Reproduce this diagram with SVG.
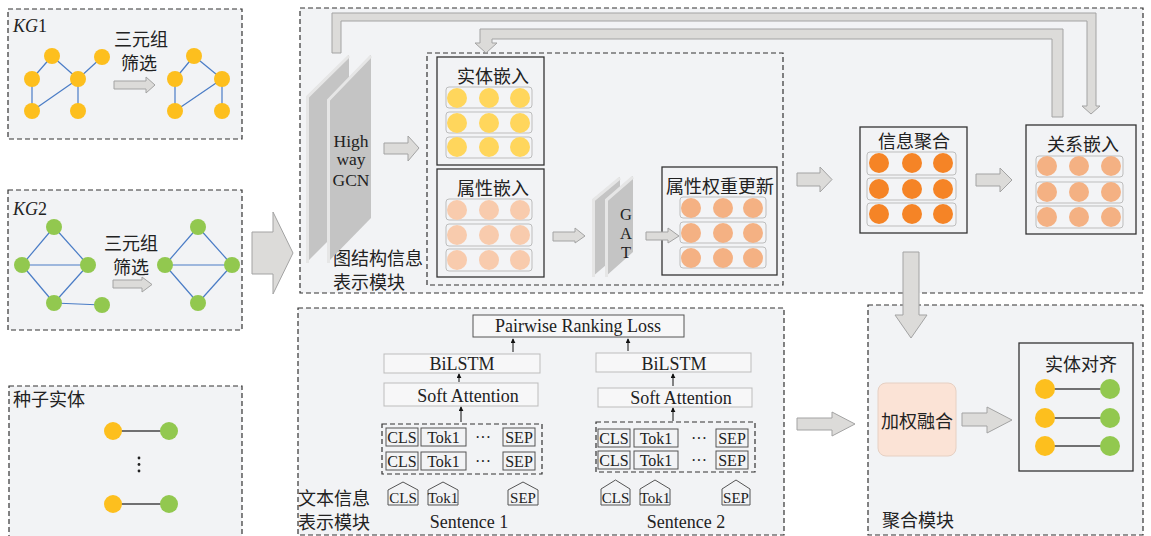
<svg xmlns="http://www.w3.org/2000/svg" width="1151" height="536" viewBox="0 0 1151 536">
<defs>
<style>
.panel{fill:#f2f3f5;stroke:#333;stroke-width:1.2;stroke-dasharray:5 3}
.inner{fill:none;stroke:#333;stroke-width:1.2;stroke-dasharray:5 3}
.box{fill:#f2f3f5;stroke:#333;stroke-width:1.3}
.row{fill:#f3f4f6;stroke:#bdbdbd;stroke-width:1}
.blk{fill:#dcdbd9;stroke:#a3a3a3;stroke-width:1}
.edge{stroke:#4a7cc6;stroke-width:1.2}
.seed{stroke:#444;stroke-width:1.3}
.y{fill:#fdbf1e}
.g{fill:#92c84f}
.c1{fill:#ffd65c}
.c2{fill:#f8cbad}
.c3{fill:#f4b183}
.c4{fill:#f58426}
.zh{font-family:"Noto Sans CJK SC","Noto Sans",sans-serif;font-size:18px;fill:#222}
.en{font-family:"Liberation Serif",serif;fill:#222}
.lbox{fill:#f7f7f8;stroke:#bdbdbd;stroke-width:1}
.tok{fill:#f2f3f5;stroke:#555;stroke-width:1}
.slab{fill:#c4c4c4}
.slabedge{fill:none;stroke:#e6e6e6;stroke-width:3}
.thin{stroke:#111;stroke-width:1;marker-end:url(#ah)}
</style>
<marker id="ah" viewBox="0 0 6 6" refX="5" refY="3" markerWidth="5" markerHeight="5" orient="auto">
<path d="M0,0 L6,3 L0,6 z" fill="#111"/>
</marker>
</defs>

<!-- KG1 panel -->
<g id="kg1">
<rect class="panel" x="8" y="9" width="234" height="130"/>
<text class="en" x="13" y="32" font-size="18" font-style="italic">KG<tspan font-style="normal">1</tspan></text>
<g>
<line class="edge" x1="52" y1="56" x2="32" y2="79"/>
<line class="edge" x1="52" y1="56" x2="78" y2="79"/>
<line class="edge" x1="102" y1="57" x2="78" y2="79"/>
<line class="edge" x1="32" y1="79" x2="32" y2="111"/>
<line class="edge" x1="78" y1="79" x2="32" y2="111"/>
<line class="edge" x1="78" y1="79" x2="78" y2="111"/>
<circle class="y" cx="52" cy="56" r="8"/><circle class="y" cx="102" cy="57" r="8"/>
<circle class="y" cx="32" cy="79" r="8"/><circle class="y" cx="78" cy="79" r="8"/>
<circle class="y" cx="32" cy="111" r="8"/><circle class="y" cx="78" cy="111" r="8"/>
</g>
<g>
<line class="edge" x1="194" y1="56" x2="175" y2="79"/>
<line class="edge" x1="194" y1="56" x2="222" y2="79"/>
<line class="edge" x1="175" y1="79" x2="175" y2="111"/>
<line class="edge" x1="222" y1="79" x2="175" y2="111"/>
<line class="edge" x1="222" y1="79" x2="222" y2="111"/>
<circle class="y" cx="194" cy="56" r="8"/><circle class="y" cx="175" cy="79" r="8"/>
<circle class="y" cx="222" cy="79" r="8"/><circle class="y" cx="175" cy="111" r="8"/>
<circle class="y" cx="222" cy="111" r="8"/>
</g>
<text class="zh" x="141" y="46" text-anchor="middle" font-size="17">三元组</text>
<text class="zh" x="139" y="70" text-anchor="middle" font-size="17">筛选</text>
</g>

<!-- KG2 panel -->
<g id="kg2">
<rect class="panel" x="8" y="190" width="234" height="140"/>
<text class="en" x="13" y="215" font-size="18" font-style="italic">KG<tspan font-style="normal">2</tspan></text>
<g>
<line class="edge" x1="54" y1="227" x2="22" y2="265"/>
<line class="edge" x1="54" y1="227" x2="88" y2="265"/>
<line class="edge" x1="22" y1="265" x2="88" y2="265"/>
<line class="edge" x1="22" y1="265" x2="54" y2="303"/>
<line class="edge" x1="88" y1="265" x2="54" y2="303"/>
<line class="edge" x1="54" y1="303" x2="102" y2="305"/>
<circle class="g" cx="54" cy="227" r="8"/><circle class="g" cx="22" cy="265" r="8"/>
<circle class="g" cx="88" cy="265" r="8"/><circle class="g" cx="54" cy="303" r="8"/>
<circle class="g" cx="102" cy="305" r="8"/>
</g>
<g>
<line class="edge" x1="198" y1="227" x2="165" y2="265"/>
<line class="edge" x1="198" y1="227" x2="232" y2="265"/>
<line class="edge" x1="165" y1="265" x2="232" y2="265"/>
<line class="edge" x1="165" y1="265" x2="198" y2="303"/>
<line class="edge" x1="232" y1="265" x2="198" y2="303"/>
<circle class="g" cx="198" cy="227" r="8"/><circle class="g" cx="165" cy="265" r="8"/>
<circle class="g" cx="232" cy="265" r="8"/><circle class="g" cx="198" cy="303" r="8"/>
</g>
<text class="zh" x="131" y="250" text-anchor="middle" font-size="17">三元组</text>
<text class="zh" x="131" y="274" text-anchor="middle" font-size="17">筛选</text>
</g>

<!-- Seed panel -->
<g id="seed">
<rect class="panel" x="9" y="386" width="233" height="160"/>
<text class="zh" x="13" y="406">种子实体</text>
<line class="seed" x1="113" y1="431" x2="169" y2="431"/>
<circle class="y" cx="113" cy="431" r="9"/><circle class="g" cx="169" cy="431" r="9"/>
<circle cx="139" cy="458" r="1.4" fill="#222"/><circle cx="139" cy="464.5" r="1.4" fill="#222"/><circle cx="139" cy="471" r="1.4" fill="#222"/>
<line class="seed" x1="113" y1="504" x2="169" y2="504"/>
<circle class="y" cx="113" cy="504" r="9"/><circle class="g" cx="169" cy="504" r="9"/>
</g>

<!-- Graph structure module -->
<g id="graph-module">
<rect class="panel" x="300" y="8" width="843" height="285"/>
<rect class="inner" x="427" y="53" width="356" height="232"/>
<text class="zh" x="333" y="265" font-size="17">图结构信息</text>
<text class="zh" x="333" y="289" font-size="17">表示模块</text>
</g>

<g id="highway-gcn">
<polygon class="slab" points="306,97 349,55 349,220 306,263"/>
<polyline class="slabedge" points="307.5,263 307.5,97 349,56"/>
<polygon class="slab" points="327,100 371,55 371,218 327,263"/>
<polyline class="slabedge" points="328.5,263 328.5,100 371,56"/>
<text class="en" x="351" y="147" font-size="17.5" text-anchor="middle">High</text>
<text class="en" x="351" y="165" font-size="17.5" text-anchor="middle">way</text>
<text class="en" x="351" y="186" font-size="17.5" text-anchor="middle">GCN</text>
</g>

<g id="entity-emb">
<rect class="box" x="437" y="57" width="107" height="108"/>
<text class="zh" x="493" y="83" text-anchor="middle">实体嵌入</text>
<rect class="row" x="446" y="87" width="86" height="21" rx="3"/>
<rect class="row" x="446" y="112" width="86" height="21" rx="3"/>
<rect class="row" x="446" y="137" width="86" height="21" rx="3"/>
<circle class="c1" cx="457" cy="98" r="10"/><circle class="c1" cx="489" cy="98" r="10"/><circle class="c1" cx="520" cy="98" r="10"/>
<circle class="c1" cx="457" cy="123" r="10"/><circle class="c1" cx="489" cy="123" r="10"/><circle class="c1" cx="520" cy="123" r="10"/>
<circle class="c1" cx="457" cy="147" r="10"/><circle class="c1" cx="489" cy="147" r="10"/><circle class="c1" cx="520" cy="147" r="10"/>
</g>

<g id="attr-emb">
<rect class="box" x="437" y="169" width="107" height="108"/>
<text class="zh" x="493" y="195" text-anchor="middle">属性嵌入</text>
<rect class="row" x="446" y="199" width="86" height="21" rx="3"/>
<rect class="row" x="446" y="224" width="86" height="22" rx="3"/>
<rect class="row" x="446" y="249" width="86" height="22" rx="3"/>
<circle class="c2" cx="457" cy="210" r="10"/><circle class="c2" cx="489" cy="210" r="10"/><circle class="c2" cx="520" cy="210" r="10"/>
<circle class="c2" cx="457" cy="235" r="10"/><circle class="c2" cx="489" cy="235" r="10"/><circle class="c2" cx="520" cy="235" r="10"/>
<circle class="c2" cx="457" cy="260" r="10"/><circle class="c2" cx="489" cy="260" r="10"/><circle class="c2" cx="520" cy="260" r="10"/>
</g>

<g id="gat">
<polygon class="slab" points="592,200 620,177 620,253 592,277"/>
<polyline class="slabedge" points="593.5,277 593.5,200 620,178"/>
<polygon class="slab" points="605,200 633,176 633,252 605,277"/>
<polyline class="slabedge" points="606.5,277 606.5,200 633,177"/>
<text class="en" x="626" y="205" font-size="16.5" writing-mode="vertical-rl" style="text-orientation:upright">GAT</text>
</g>

<g id="attr-update">
<rect class="box" x="662" y="167" width="115" height="108"/>
<text class="zh" x="720" y="193" text-anchor="middle">属性权重更新</text>
<rect class="row" x="680" y="197" width="86" height="21" rx="3"/>
<rect class="row" x="680" y="222" width="86" height="21" rx="3"/>
<rect class="row" x="680" y="247" width="86" height="21" rx="3"/>
<circle class="c3" cx="691" cy="208" r="10"/><circle class="c3" cx="723" cy="208" r="10"/><circle class="c3" cx="753" cy="208" r="10"/>
<circle class="c3" cx="691" cy="233" r="10"/><circle class="c3" cx="723" cy="233" r="10"/><circle class="c3" cx="753" cy="233" r="10"/>
<circle class="c3" cx="691" cy="258" r="10"/><circle class="c3" cx="723" cy="258" r="10"/><circle class="c3" cx="753" cy="258" r="10"/>
</g>

<g id="info-agg">
<rect class="box" x="860" y="127" width="107" height="106"/>
<text class="zh" x="914" y="148" text-anchor="middle">信息聚合</text>
<rect class="row" x="867" y="152" width="89" height="23" rx="3"/>
<rect class="row" x="867" y="178" width="89" height="22" rx="3"/>
<rect class="row" x="867" y="203" width="89" height="23" rx="3"/>
<circle class="c4" cx="879" cy="163" r="10"/><circle class="c4" cx="912" cy="163" r="10"/><circle class="c4" cx="943" cy="163" r="10"/>
<circle class="c4" cx="879" cy="189" r="10"/><circle class="c4" cx="912" cy="189" r="10"/><circle class="c4" cx="943" cy="189" r="10"/>
<circle class="c4" cx="879" cy="214" r="10"/><circle class="c4" cx="912" cy="214" r="10"/><circle class="c4" cx="943" cy="214" r="10"/>
</g>

<g id="rel-emb">
<rect class="box" x="1026" y="125" width="110" height="109"/>
<text class="zh" x="1083" y="151" text-anchor="middle">关系嵌入</text>
<rect class="row" x="1036" y="156" width="87" height="21" rx="3"/>
<rect class="row" x="1036" y="182" width="87" height="21" rx="3"/>
<rect class="row" x="1036" y="206" width="87" height="22" rx="3"/>
<circle class="c3" cx="1047" cy="166" r="10"/><circle class="c3" cx="1079" cy="166" r="10"/><circle class="c3" cx="1111" cy="166" r="10"/>
<circle class="c3" cx="1047" cy="192" r="10"/><circle class="c3" cx="1079" cy="192" r="10"/><circle class="c3" cx="1111" cy="192" r="10"/>
<circle class="c3" cx="1047" cy="217" r="10"/><circle class="c3" cx="1079" cy="217" r="10"/><circle class="c3" cx="1111" cy="217" r="10"/>
</g>

<!-- Text module -->
<g id="text-module">
<rect class="panel" x="298" y="308" width="486" height="227"/>
<text class="zh" x="298" y="505" font-size="17.5">文本信息</text>
<text class="zh" x="298" y="529" font-size="17.5">表示模块</text>
</g>

<g id="ranking-loss">
<rect fill="#f7f7f8" stroke="#555" stroke-width="1" x="473" y="315" width="211" height="22"/>
<text class="en" x="578" y="332" font-size="18" text-anchor="middle">Pairwise Ranking Loss</text>
</g>

<g id="sentence1">
<rect class="lbox" x="384" y="354" width="156" height="19"/>
<text class="en" x="462" y="370" font-size="18" text-anchor="middle">BiLSTM</text>
<rect class="lbox" x="384" y="383" width="154" height="23"/>
<text class="en" x="468" y="402" font-size="18" text-anchor="middle">Soft Attention</text>
<rect class="inner" x="382" y="424" width="160" height="50"/>
<rect class="tok" x="386" y="428" width="32" height="18"/>
<rect class="tok" x="421" y="428" width="45" height="18"/>
<rect class="tok" x="503" y="428" width="32" height="18"/>
<rect class="tok" x="386" y="452" width="32" height="18"/>
<rect class="tok" x="421" y="452" width="45" height="18"/>
<rect class="tok" x="503" y="452" width="32" height="18"/>
<text class="en" x="402" y="443" font-size="16" text-anchor="middle">CLS</text>
<text class="en" x="443.5" y="443" font-size="16" text-anchor="middle">Tok1</text>
<text class="en" x="483" y="443" font-size="16" text-anchor="middle">···</text>
<text class="en" x="519" y="443" font-size="16" text-anchor="middle">SEP</text>
<text class="en" x="402" y="467" font-size="16" text-anchor="middle">CLS</text>
<text class="en" x="443.5" y="467" font-size="16" text-anchor="middle">Tok1</text>
<text class="en" x="483" y="467" font-size="16" text-anchor="middle">···</text>
<text class="en" x="519" y="467" font-size="16" text-anchor="middle">SEP</text>
<polygon class="tok" points="388,505 388,490 403,482 418,490 418,505"/>
<polygon class="tok" points="428,505 428,490 443,482 458,490 458,505"/>
<polygon class="tok" points="508,505 508,490 523,482 538,490 538,505"/>
<text class="en" x="403" y="503" font-size="15" text-anchor="middle">CLS</text>
<text class="en" x="443" y="503" font-size="15" text-anchor="middle">Tok1</text>
<text class="en" x="523" y="503" font-size="15" text-anchor="middle">SEP</text>
<text class="en" x="469" y="528" font-size="18" text-anchor="middle">Sentence 1</text>
</g>

<g id="sentence2">
<rect class="lbox" x="596" y="353" width="155" height="19"/>
<text class="en" x="674" y="370" font-size="18" text-anchor="middle">BiLSTM</text>
<rect class="lbox" x="598" y="388" width="154" height="19"/>
<text class="en" x="681" y="404" font-size="18" text-anchor="middle">Soft Attention</text>
<rect class="inner" x="596" y="422" width="159" height="50"/>
<rect class="tok" x="598" y="429" width="32" height="18"/>
<rect class="tok" x="634" y="429" width="44" height="18"/>
<rect class="tok" x="716" y="429" width="32" height="18"/>
<rect class="tok" x="598" y="451" width="32" height="18"/>
<rect class="tok" x="634" y="451" width="44" height="18"/>
<rect class="tok" x="716" y="451" width="32" height="18"/>
<text class="en" x="614" y="444" font-size="16" text-anchor="middle">CLS</text>
<text class="en" x="656" y="444" font-size="16" text-anchor="middle">Tok1</text>
<text class="en" x="699" y="444" font-size="16" text-anchor="middle">···</text>
<text class="en" x="732" y="444" font-size="16" text-anchor="middle">SEP</text>
<text class="en" x="614" y="466" font-size="16" text-anchor="middle">CLS</text>
<text class="en" x="656" y="466" font-size="16" text-anchor="middle">Tok1</text>
<text class="en" x="699" y="466" font-size="16" text-anchor="middle">···</text>
<text class="en" x="732" y="466" font-size="16" text-anchor="middle">SEP</text>
<polygon class="tok" points="601,505 601,489 615.5,480 630,489 630,505"/>
<polygon class="tok" points="640,505 640,489 655,480 670,489 670,505"/>
<polygon class="tok" points="722,505 722,489 736,480 750,489 750,505"/>
<text class="en" x="615.5" y="503" font-size="15" text-anchor="middle">CLS</text>
<text class="en" x="655" y="503" font-size="15" text-anchor="middle">Tok1</text>
<text class="en" x="736" y="503" font-size="15" text-anchor="middle">SEP</text>
<text class="en" x="686" y="528" font-size="18" text-anchor="middle">Sentence 2</text>
</g>

<!-- Aggregation module -->
<g id="agg-module">
<rect class="panel" x="868" y="305" width="275" height="230"/>
<text class="zh" x="882" y="527">聚合模块</text>
</g>

<g id="weighted-fusion">
<rect x="878" y="383" width="78" height="73" rx="8" fill="#fbe3d6" stroke="#e6d0c3" stroke-width="1"/>
<text class="zh" x="917" y="428" text-anchor="middle">加权融合</text>
</g>

<g id="entity-align">
<rect class="box" x="1019" y="343" width="114" height="128"/>
<text class="zh" x="1081" y="371" text-anchor="middle">实体对齐</text>
<line class="seed" x1="1045" y1="389" x2="1110" y2="389"/>
<line class="seed" x1="1045" y1="418" x2="1110" y2="418"/>
<line class="seed" x1="1045" y1="446" x2="1110" y2="446"/>
<circle class="y" cx="1045" cy="389" r="10"/><circle class="g" cx="1110" cy="389" r="10"/>
<circle class="y" cx="1045" cy="418" r="10"/><circle class="g" cx="1110" cy="418" r="10"/>
<circle class="y" cx="1045" cy="446" r="10"/><circle class="g" cx="1110" cy="446" r="10"/>
</g>

<!-- Connectors -->
<g id="connectors">
<polygon class="blk" points="114,81 146,81 146,77 155,85 146,93 146,89 114,89"/>
<polygon class="blk" points="113,280 142,280 142,277 152,284.5 142,292 142,288 113,288"/>
<polygon class="blk" points="252,232 273,232 273,212 293,253 273,294 273,274 252,274"/>
<polygon class="blk" points="384,143 408,143 408,136 419,148 408,161 408,154 384,154"/>
<polygon class="blk" points="553,232 575,232 575,228 585,236 575,243 575,241 553,241"/>
<polygon class="blk" points="646,232 668,232 668,228 679,236 668,243 668,240 646,240"/>
<polygon class="blk" points="797,173 820,173 820,167 832,179.5 820,192 820,186 797,186"/>
<polygon class="blk" points="976,174 1000,174 1000,168 1012,180 1000,192 1000,186 976,186"/>
<polygon class="blk" points="903,252 919,252 919,315 927,315 911,338 895,315 903,315"/>
<polygon class="blk" points="797,418 832,418 832,412 855,424 832,436 832,430 797,430"/>
<polygon class="blk" points="962,413 987,413 987,407 1012,420 987,433 987,426 962,426"/>
<polygon class="blk" points="332,53 332,13 1096,13 1096,106 1100,106 1091,114 1082,106 1087,106 1087,21 341,21 341,53"/>
<polygon class="blk" points="1063,117 1063,29 480,29 480,43 475,43 486,53 497,43 492,43 492,39 1052,39 1052,117"/>
<line class="thin" x1="513" y1="352" x2="513" y2="339"/>
<line class="thin" x1="628" y1="351" x2="628" y2="339"/>
<line class="thin" x1="459" y1="382" x2="459" y2="374"/>
<line class="thin" x1="461" y1="422" x2="461" y2="407"/>
<line class="thin" x1="673" y1="386" x2="673" y2="374"/>
<line class="thin" x1="673" y1="421" x2="673" y2="408"/>
</g>
</svg>
